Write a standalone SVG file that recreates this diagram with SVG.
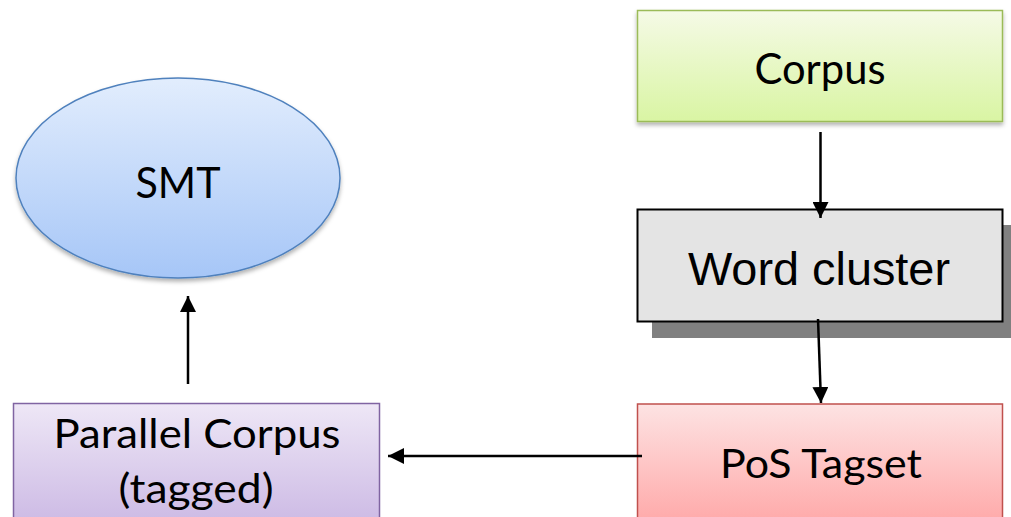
<svg xmlns="http://www.w3.org/2000/svg" width="1011" height="517" viewBox="0 0 1011 517">
<style>
.cal{font-family:Lato,"Open Sans","Liberation Sans",sans-serif;fill:#000;text-anchor:middle}
.ar{font-family:"Liberation Sans",Arial,sans-serif;fill:#000;text-anchor:middle}
.conn{stroke:#000;stroke-width:2.5;fill:none;marker-end:url(#ah)}
</style>
<defs>
<linearGradient id="gGreen" x1="0" y1="0" x2="0" y2="1"><stop offset="0" stop-color="#f5fae6"/><stop offset="1" stop-color="#d9f5a3"/></linearGradient>
<linearGradient id="gRed" x1="0" y1="0" x2="0" y2="1"><stop offset="0" stop-color="#fde3e3"/><stop offset="1" stop-color="#ffa6a6"/></linearGradient>
<linearGradient id="gBlue" x1="0" y1="0" x2="0" y2="1"><stop offset="0" stop-color="#e2edfd"/><stop offset="1" stop-color="#a6c6f7"/></linearGradient>
<linearGradient id="gPurple" x1="0" y1="0" x2="0" y2="1"><stop offset="0" stop-color="#eee7f6"/><stop offset="1" stop-color="#cbb8e4"/></linearGradient>
<filter id="sh" x="-5%" y="-5%" width="110%" height="115%"><feDropShadow dx="0" dy="3" stdDeviation="2" flood-color="#000" flood-opacity="0.3"/></filter>
<marker id="ah" markerUnits="userSpaceOnUse" markerWidth="16" markerHeight="16" viewBox="0 0 16 16" refX="16" refY="8" orient="auto"><path d="M0,0 L16,8 L0,16 z" fill="#000"/></marker>
</defs>
<g id="corpus">
<rect x="637.5" y="10.5" width="365" height="111" fill="url(#gGreen)" stroke="#9bbb59" stroke-width="1.5" filter="url(#sh)"/>
<text class="cal" x="820" y="84" font-size="42" textLength="131" lengthAdjust="spacingAndGlyphs">Corpus</text>
</g>
<g id="word-cluster">
<rect x="652" y="225" width="366" height="113" fill="#808080"/>
<rect x="637.5" y="209.5" width="365" height="112" fill="#e4e4e4" stroke="#000" stroke-width="2"/>
<text class="ar" x="819" y="285" font-size="46" textLength="262" lengthAdjust="spacingAndGlyphs">Word cluster</text>
</g>
<g id="pos-tagset">
<rect x="637.5" y="404" width="365" height="125" fill="url(#gRed)" stroke="#c0504d" stroke-width="1.5"/>
<text class="cal" x="821" y="478" font-size="41" textLength="202" lengthAdjust="spacingAndGlyphs">PoS Tagset</text>
</g>
<g id="smt">
<ellipse cx="178" cy="178" rx="162" ry="100" fill="url(#gBlue)" stroke="#4f81bd" stroke-width="1.5" filter="url(#sh)"/>
<text class="cal" x="178" y="198" font-size="43" textLength="85" lengthAdjust="spacingAndGlyphs">SMT</text>
</g>
<g id="parallel-corpus">
<rect x="13.5" y="403.5" width="366" height="125" fill="url(#gPurple)" stroke="#8064a2" stroke-width="1.5"/>
<text class="cal" x="197" y="448" font-size="40" textLength="287" lengthAdjust="spacingAndGlyphs">Parallel Corpus</text>
<text class="cal" x="196" y="503" font-size="40" textLength="155" lengthAdjust="spacingAndGlyphs">(tagged)</text>
</g>
<g id="connectors">
<line class="conn" x1="820.5" y1="132" x2="820.5" y2="218"/>
<line class="conn" x1="818" y1="319" x2="821" y2="403"/>
<line class="conn" x1="642" y1="456" x2="388" y2="456"/>
<line class="conn" x1="188" y1="384" x2="188" y2="296"/>
</g>
</svg>
